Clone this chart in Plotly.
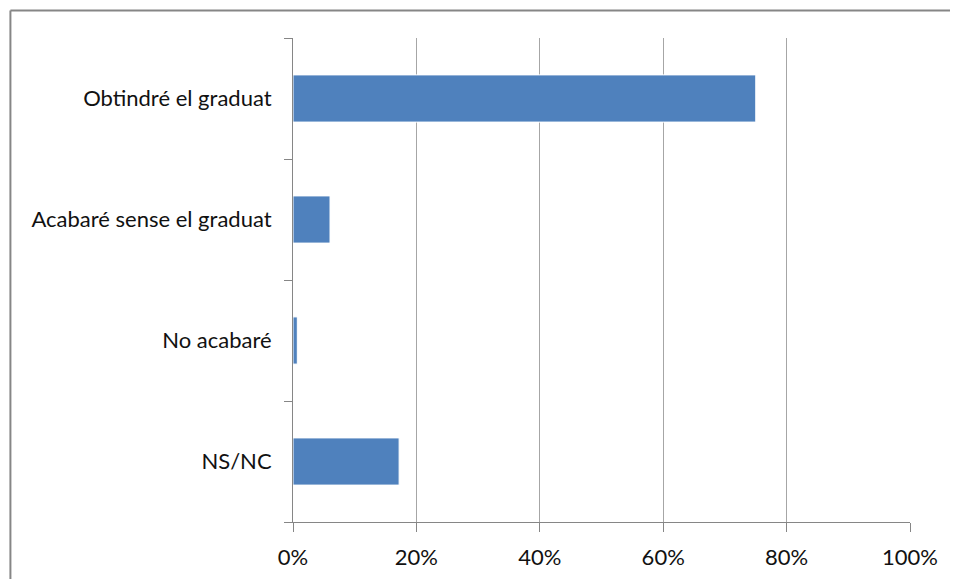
import plotly.graph_objects as go

# Dades
categories = ["Obtindré el graduat", "Acabaré sense el graduat", "No acabaré", "NS/NC"]
values = [0.75, 0.06, 0.007, 0.172]
tick_vals = [0, 0.2, 0.4, 0.6, 0.8, 1.0]
tick_text = ["0%", "20%", "40%", "60%", "80%", "100%"]

font_family = "Lato, 'Open Sans', sans-serif"
grid_color = "#a6a6a6"
axis_color = "#868686"

fig = go.Figure()
fig.add_trace(go.Bar(
    x=values,
    y=categories,
    orientation="h",
    marker=dict(color="#4f81bd", line=dict(color="#ffffff", width=1)),
    width=0.39,
    hoverinfo="x+y",
))

# la pàgina té 8px de marge, per això la figura és una mica més petita
fig.update_layout(
    width=950,
    height=571,
    margin=dict(l=285, r=48, t=30, b=57),
    paper_bgcolor="white",
    plot_bgcolor="white",
    showlegend=False,
    font=dict(family=font_family, color="#1a1a1a"),
    shapes=[
        # marc del gràfic (només es veuen la vora superior i l'esquerra)
        dict(type="line", xref="paper", yref="paper",
             x0=-0.458, x1=1.1, y0=1.057, y1=1.057,
             line=dict(color=axis_color, width=2)),
        dict(type="line", xref="paper", yref="paper",
             x0=-0.458, x1=-0.458, y0=1.057, y1=-0.15,
             line=dict(color=axis_color, width=2)),
    ],
)

fig.update_xaxes(
    range=[0, 1],
    tickvals=tick_vals,
    ticktext=tick_text,
    tickfont=dict(size=22, family=font_family, color="#111111"),
    showgrid=True,
    gridcolor=grid_color,
    gridwidth=1,
    zeroline=False,
    showline=True,
    linecolor=axis_color,
    linewidth=1,
    ticks="outside",
    ticklen=9,
    tickcolor=axis_color,
    ticklabelstandoff=7,
    automargin=False,
    fixedrange=True,
)

fig.update_yaxes(
    categoryorder="array",
    categoryarray=categories[::-1],
    tickson="boundaries",
    ticks="outside",
    ticklen=8,
    tickcolor=axis_color,
    tickfont=dict(size=22, family=font_family, color="#111111"),
    showline=True,
    linecolor=axis_color,
    linewidth=1,
    showgrid=False,
    ticklabelstandoff=16,
    automargin=False,
    fixedrange=True,
)

fig.write_html("out.html")
